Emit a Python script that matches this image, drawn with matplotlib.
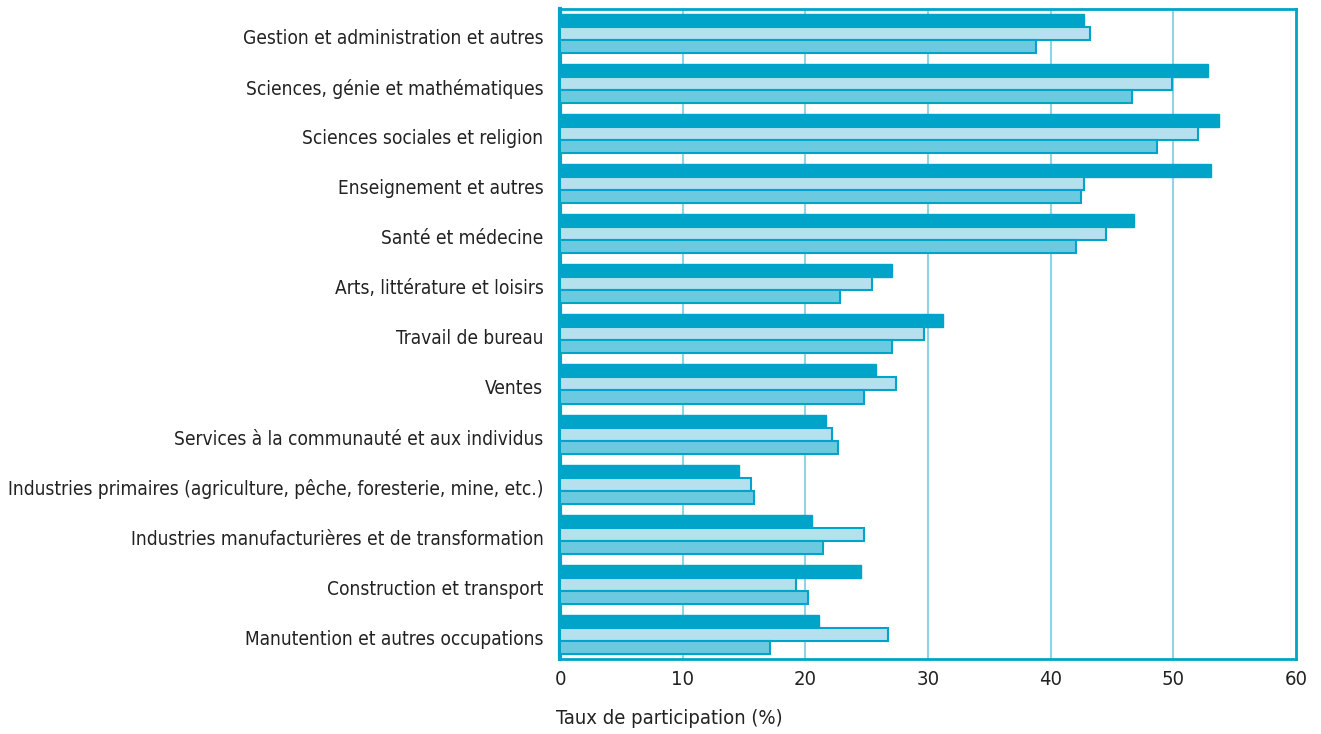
import matplotlib
matplotlib.use("Agg")
import matplotlib.pyplot as plt
import matplotlib.transforms as mtransforms
import numpy as np

plt.rcParams["font.family"] = ["DejaVu Sans"]
plt.rcParams["font.stretch"] = "condensed"

categories = [
    "Gestion et administration et autres",
    "Sciences, génie et mathématiques",
    "Sciences sociales et religion",
    "Enseignement et autres",
    "Santé et médecine",
    "Arts, littérature et loisirs",
    "Travail de bureau",
    "Ventes",
    "Services à la communauté et aux individus",
    "Industries primaires (agriculture, pêche, foresterie, mine, etc.)",
    "Industries manufacturières et de transformation",
    "Construction et transport",
    "Manutention et autres occupations",
]
serie_a = [42.7, 52.8, 53.7, 53.1, 46.8, 27.1, 31.2, 25.8, 21.7, 14.6, 20.5, 24.5, 21.1]
serie_b = [43.2, 49.9, 52.0, 42.7, 44.5, 25.4, 29.7, 27.4, 22.2, 15.6, 24.8, 19.2, 26.7]
serie_c = [38.8, 46.6, 48.7, 42.5, 42.1, 22.8, 27.1, 24.8, 22.7, 15.8, 21.4, 20.2, 17.1]
xticks = [0, 10, 20, 30, 40, 50, 60]

BLUE = "#00a4c9"
LIGHT = "#b5e1ef"
MID = "#6ccae0"
GRID = "#8fd3e6"

fig = plt.figure(figsize=(13.21, 7.34), dpi=100)
ax = fig.add_axes([0.424, 0.102, 0.557, 0.886])

y = np.arange(len(categories))
h = 0.26
ax.barh(y - h, serie_a, height=h, color=BLUE, edgecolor=BLUE, linewidth=1, zorder=3)
ax.barh(y, serie_b, height=h, color=LIGHT, edgecolor=BLUE, linewidth=1.5, zorder=3)
ax.barh(y + h, serie_c, height=h, color=MID, edgecolor=BLUE, linewidth=1.5, zorder=3)

ax.set_ylim(len(categories) - 0.5, -0.5)
ax.set_xlim(0, 60)
ax.set_xticks(xticks)
ax.set_yticks(y)
ax.set_yticklabels(categories, fontsize=13.7, color="#222222")
ax.tick_params(axis="x", labelsize=14.5, length=0, pad=8, colors="#222222")
ax.tick_params(axis="y", length=0, pad=12)

# décale les libellés un peu vers le bas
shift = mtransforms.ScaledTranslation(0, -3 / 100, fig.dpi_scale_trans)
for lab in ax.get_yticklabels():
    lab.set_transform(lab.get_transform() + shift)

for gx in xticks[1:-1]:
    ax.axvline(gx, color=GRID, linewidth=1.5, zorder=1)

for side in ["top", "right", "bottom"]:
    ax.spines[side].set_color(BLUE)
    ax.spines[side].set_linewidth(2)
ax.spines["left"].set_color(BLUE)
ax.spines["left"].set_linewidth(3)

fig.text(556 / 1321, 1 - 718 / 734, "Taux de participation (%)", fontsize=14.5,
         color="#222222", ha="left", va="center")

fig.savefig("out.png", dpi=100)
